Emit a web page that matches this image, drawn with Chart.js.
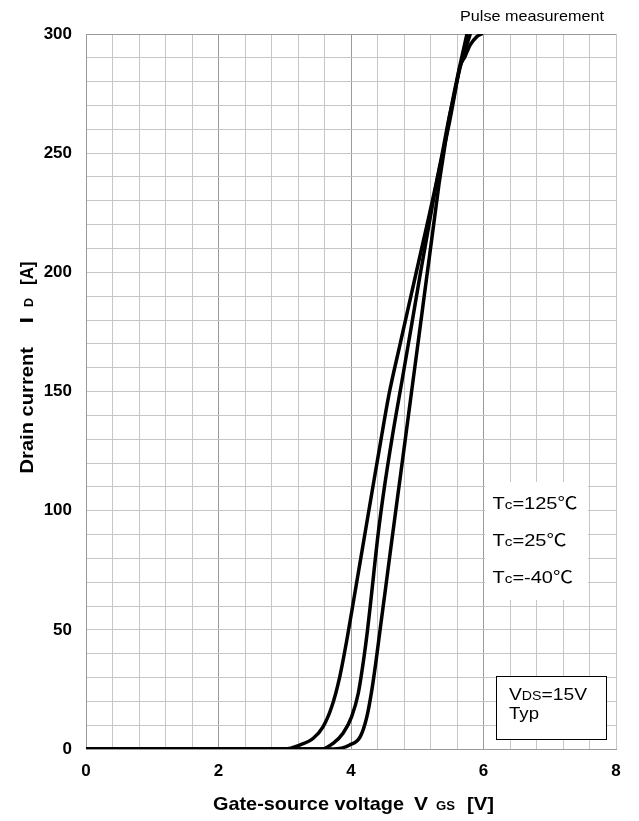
<!DOCTYPE html>
<html>
<head>
<meta charset="utf-8">
<script src="https://cdn.jsdelivr.net/npm/chart.js@4/dist/chart.umd.min.js"></script>
<style>
  html, body { margin: 0; padding: 0; background: #fff; }
  #wrap { width: 639px; height: 821px; position: relative; }
</style>
</head>
<body>
<div id="wrap"><canvas id="c" width="639" height="821"></canvas></div>
<script>
// Transfer characteristics: drain current vs gate-source voltage, three case temperatures
const vgs125 = [0, 3.0, 3.23, 3.43, 3.58, 3.71, 3.83, 3.945, 4.04, 4.125, 4.33, 4.45, 4.575, 4.73, 4.90, 5.047, 5.172, 5.35, 5.49, 5.55, 5.645, 5.72, 5.80, 5.90, 5.97];
const id125  = [0, 0, 1.7, 4.5, 9.4, 17.8, 30.3, 47, 62.4, 76.3, 109.9, 129.4, 149, 168.5, 189.5, 207.6, 223, 245.3, 263.5, 272.3, 286.3, 290.5, 295.4, 298.9, 300];

const vgs25 = [0, 3.56, 3.73, 3.88, 4.01, 4.11, 4.19, 4.25, 4.30, 4.41, 4.505, 4.63, 4.77, 4.90, 5.045, 5.17, 5.295, 5.385, 5.47, 5.54, 5.65, 5.80];
const id25  = [0, 0, 2.4, 6.6, 13.6, 23.4, 37.3, 50, 62.4, 90.3, 110, 132.2, 154.5, 175.5, 199.2, 218.8, 238.3, 251, 263.5, 272.3, 286.3, 300];

const vgsM40 = [0, 3.73, 3.98, 4.14, 4.24, 4.315, 4.38, 4.445, 4.515, 4.59, 4.69, 4.817, 4.91, 5.023, 5.142, 5.235, 5.328, 5.40, 5.475, 5.535, 5.64, 5.75];
const idM40  = [0, 0, 1.7, 5.2, 13.6, 24.8, 37.3, 51.3, 66, 82, 103, 129.4, 149, 172.7, 197.8, 217.3, 236.9, 250, 263.5, 272.3, 286.3, 300];

const xTickLabels = [0, 2, 4, 6, 8];
const yTickLabels = [0, 50, 100, 150, 200, 250, 300];
const tempLabels = ['125', '25', '-40'];

const toPoints = (xs, ys) => xs.map((x, i) => ({ x: x, y: ys[i] }));
const near = (v, list) => list.some(t => Math.abs(v - t) < 1e-6);

const FONT = '"Liberation Sans", Arial, sans-serif';
const CJK = '"Noto Sans CJK JP", "Noto Sans CJK SC", sans-serif';

function seriesStyle(label, xs, ys) {
  return {
    label: label,
    data: toPoints(xs, ys),
    showLine: true,
    borderColor: '#000',
    borderWidth: 3.5,
    pointRadius: 0,
    cubicInterpolationMode: 'monotone',
    borderCapStyle: 'round',
    borderJoinStyle: 'round',
    fill: false
  };
}

// Draws a row of mixed-size text runs from x on baseline y, stretched to a given width
function drawRunsFit(ctx, runs, x, y, width) {
  let natural = 0;
  runs.forEach(r => { ctx.font = r.font; natural += ctx.measureText(r.text).width + (r.gap || 0); });
  const sx = width ? width / natural : 1;
  ctx.save();
  ctx.translate(x, y);
  ctx.scale(sx, 1);
  let cx = 0;
  runs.forEach(r => {
    ctx.font = r.font;
    ctx.fillText(r.text, cx, 0);
    cx += ctx.measureText(r.text).width + (r.gap || 0);
  });
  ctx.restore();
}

// Draws single runs at set offsets along the baseline, each fitted to its own width
function drawPlaced(ctx, runs, y) {
  runs.forEach(r => {
    ctx.font = r.font;
    const w = ctx.measureText(r.text).width;
    ctx.save();
    ctx.translate(r.x, y);
    ctx.scale(r.w / w, 1);
    ctx.fillText(r.text, 0, 0);
    ctx.restore();
  });
}

const annotations = {
  id: 'annotations',
  beforeDatasetsDraw(chart) {
    const ctx = chart.ctx;
    ctx.save();
    // blank panel behind the temperature labels
    ctx.fillStyle = '#fff';
    ctx.fillRect(485, 482, 103, 118);
    // condition box
    ctx.fillRect(496.5, 676.5, 110, 63);
    ctx.strokeStyle = '#000';
    ctx.lineWidth = 1;
    ctx.strokeRect(496.5, 676.5, 110, 63);
    ctx.restore();
  },
  afterDraw(chart) {
    const ctx = chart.ctx;
    ctx.save();
    ctx.fillStyle = '#000';
    ctx.textBaseline = 'alphabetic';
    ctx.textAlign = 'left';

    // top-right note
    drawRunsFit(ctx, [{ text: 'Pulse measurement', font: '15px ' + FONT }], 460, 21, 144);

    // temperature labels
    const tY = [508.5, 545.5, 583];
    const tW = [85, 74, 80.5];
    tempLabels.forEach((t, i) => {
      drawRunsFit(ctx, [
        { text: 'T', font: '17px ' + FONT },
        { text: 'c', font: '13px ' + FONT },
        { text: '=' + t, font: '17px ' + FONT },
        { text: '\u2103', font: '17px ' + CJK }
      ], 492.5, tY[i], tW[i]);
    });

    // condition box text
    drawRunsFit(ctx, [
      { text: 'V', font: '17px ' + FONT },
      { text: 'DS', font: '12.5px ' + FONT },
      { text: '=15V', font: '17px ' + FONT }
    ], 509, 700, 78);
    drawRunsFit(ctx, [{ text: 'Typ', font: '17px ' + FONT }], 509, 719, 30);

    // x axis title
    const bold = 'bold 18.5px ' + FONT;
    const boldSm = 'bold 13px ' + FONT;
    drawPlaced(ctx, [
      { text: 'Gate-source voltage', font: bold, x: 213, w: 191 },
      { text: 'V', font: bold, x: 414, w: 14 },
      { text: 'GS', font: boldSm, x: 436, w: 19 },
      { text: '[V]', font: bold, x: 467, w: 27 }
    ], 810);

    // y axis title (rotated, reading upward)
    ctx.translate(33, 473.5);
    ctx.rotate(-Math.PI / 2);
    drawPlaced(ctx, [
      { text: 'Drain current', font: bold, x: 0, w: 126.5 },
      { text: 'I', font: bold, x: 150, w: 6.5 },
      { text: 'D', font: boldSm, x: 166.5, w: 9 },
      { text: '[A]', font: bold, x: 188.5, w: 23.5 }
    ], 0);
    ctx.restore();
  }
};

new Chart(document.getElementById('c'), {
  type: 'scatter',
  data: {
    datasets: [
      seriesStyle('Tc=125\u2103', vgs125, id125),
      seriesStyle('Tc=25\u2103', vgs25, id25),
      seriesStyle('Tc=-40\u2103', vgsM40, idM40)
    ]
  },
  options: {
    responsive: false,
    animation: false,
    devicePixelRatio: 1,
    layout: { padding: { top: 34, right: 23, left: 0, bottom: 0 } },
    plugins: { legend: { display: false }, tooltip: { enabled: false } },
    scales: {
      x: {
        type: 'linear',
        min: 0, max: 8,
        afterFit(s) { s.height = 72; },
        ticks: {
          stepSize: 0.4,
          autoSkip: false,
          maxRotation: 0,
          padding: 12,
          color: '#000',
          font: { family: FONT, size: 17, weight: 'bold' },
          callback: v => near(v, xTickLabels) ? String(Math.round(v)) : ''
        },
        grid: {
          drawTicks: false,
          lineWidth: 1,
          color: c => near(c.tick.value, [2, 4, 6]) ? '#9a9a9a' : '#c6c6c6'
        },
        border: { color: '#9a9a9a', width: 1 }
      },
      y: {
        type: 'linear',
        min: 0, max: 300,
        afterFit(s) { s.width = 86; },
        ticks: {
          stepSize: 10,
          autoSkip: false,
          padding: 14,
          color: '#000',
          font: { family: FONT, size: 17, weight: 'bold' },
          callback: v => near(v, yTickLabels) ? String(v) : ''
        },
        grid: {
          drawTicks: false,
          lineWidth: 1,
          color: c => near(c.tick.value, [300]) ? '#9a9a9a' : '#c6c6c6'
        },
        border: { color: '#9a9a9a', width: 1 }
      }
    }
  },
  plugins: [annotations]
});
</script>
</body>
</html>
